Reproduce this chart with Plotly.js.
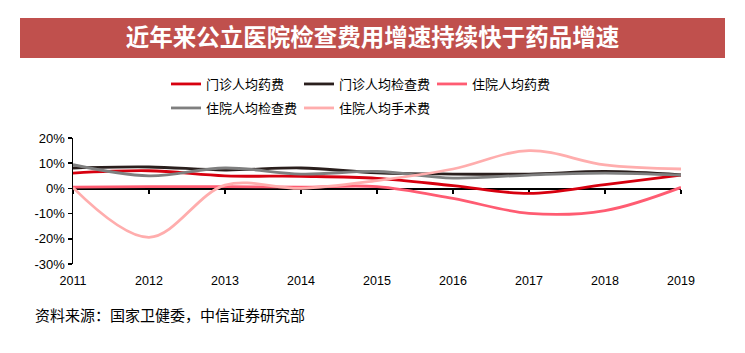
<!DOCTYPE html>
<html>
<head>
<meta charset="utf-8">
<script src="https://cdn.plot.ly/plotly-3.0.1.min.js"></script>
<style>html,body{margin:0;padding:0;background:#fff;}#chart{width:745px;height:353px;}</style>
</head>
<body>
<div id="chart"></div>
<script>
const years = [2011, 2012, 2013, 2014, 2015, 2016, 2017, 2018, 2019];
const seriesNames = ['门诊人均药费', '门诊人均检查费', '住院人均药费', '住院人均检查费', '住院人均手术费'];
const outpatientDrug = [6.1, 7.0, 5.0, 4.8, 4.0, 1.1, -2.0, 1.5, 5.3];
const outpatientExam = [8.1, 8.5, 7.3, 8.1, 6.2, 5.7, 5.7, 6.7, 5.4];
const inpatientDrug = [0.5, 0.7, 0.7, 0.5, 0.7, -4.0, -9.9, -8.8, 0.4];
const inpatientExam = [9.4, 5.0, 8.1, 5.7, 6.7, 4.1, 5.3, 6.1, 5.3];
const inpatientSurgery = [0.3, -19.4, 1.3, 0.0, 3.1, 7.7, 15.0, 9.3, 7.7];
const yTickVals = [-30, -20, -10, 0, 10, 20];
const yTickText = ['-30%', '-20%', '-10%', '0%', '10%', '20%'];
const titleText = '近年来公立医院检查费用增速持续快于药品增速';
const sourceText = '资料来源：国家卫健委，中信证券研究部';

const colors = ['#D7000F', '#2A1F1D', '#FF5C72', '#7F7F7F', '#FFADAD'];
const allSeries = [outpatientDrug, outpatientExam, inpatientDrug, inpatientExam, inpatientSurgery];
const legends = ['legend', 'legend', 'legend', 'legend2', 'legend2'];
const xaxes = ['x', 'x', 'x', 'x2', 'x2'];

const traces = allSeries.map((vals, i) => ({
  type: 'scatter', mode: 'lines', x: years, y: vals, name: seriesNames[i],
  xaxis: xaxes[i], yaxis: 'y',
  line: {color: colors[i], width: 2.8, shape: 'spline', smoothing: 1},
  legend: legends[i], hoverinfo: 'skip'
}));

const cjk = '"Noto Sans CJK SC", "Liberation Sans", sans-serif';
const num = '"Liberation Sans", Arial, sans-serif';

const layout = {
  width: 745, height: 353,
  margin: {l: 73, r: 64, t: 138, b: 89},
  paper_bgcolor: '#fff', plot_bgcolor: '#fff',
  showlegend: true,
  title: {
    text: '<b>' + titleText + '</b>',
    font: {family: cjk, size: 23.5, color: '#ffffff'},
    x: 0.5, xref: 'container', xanchor: 'center',
    y: 1 - 38 / 353, yref: 'container', yanchor: 'middle'
  },
  xaxis: {
    range: [2011, 2019], tickvals: years, ticktext: years.map(String),
    showline: false, showgrid: false, zeroline: false, ticks: '',
    tickfont: {family: num, size: 12.5, color: '#000'}, ticklabelstandoff: 7
  },
  xaxis2: {
    overlaying: 'x', anchor: 'free', position: 0.6,
    range: [2011, 2019], tickvals: years, showticklabels: false,
    showline: true, linecolor: '#000', linewidth: 1.5,
    ticks: 'outside', ticklen: 4, tickwidth: 1.5, tickcolor: '#000',
    showgrid: false, zeroline: false, layer: 'below traces'
  },
  yaxis: {
    range: [-30, 20], tickvals: yTickVals, ticktext: yTickText,
    showline: true, linecolor: '#000', linewidth: 1.5,
    ticks: 'outside', ticklen: 4, tickwidth: 1.5, tickcolor: '#000',
    showgrid: false, zeroline: false,
    tickfont: {family: num, size: 13, color: '#000'}
  },
  legend: {
    orientation: 'h', xref: 'container', yref: 'container',
    x: 166 / 745, y: 1 - 69 / 353, xanchor: 'left', yanchor: 'top',
    entrywidth: 88, entrywidthmode: 'pixels', itemwidth: 30,
    font: {family: cjk, size: 13, color: '#000'}, bgcolor: 'rgba(0,0,0,0)'
  },
  legend2: {
    orientation: 'h', xref: 'container', yref: 'container',
    x: 166 / 745, y: 1 - 93 / 353, xanchor: 'left', yanchor: 'top',
    entrywidth: 88, entrywidthmode: 'pixels', itemwidth: 30,
    font: {family: cjk, size: 13, color: '#000'}, bgcolor: 'rgba(0,0,0,0)'
  },
  shapes: [{
    type: 'rect', xref: 'paper', yref: 'paper',
    x0: (20 - 73) / 608, x1: (725 - 73) / 608,
    y0: (264 - 58) / 126, y1: (264 - 18) / 126,
    fillcolor: '#C0504D', line: {width: 0}, layer: 'below'
  }],
  annotations: [{
    text: sourceText, xref: 'paper', yref: 'paper',
    x: (33 - 73) / 608, y: (264 - 314) / 126,
    xanchor: 'left', yanchor: 'middle', showarrow: false,
    font: {family: cjk, size: 15, color: '#000'}
  }]
};

Plotly.newPlot('chart', traces, layout, {displayModeBar: false, staticPlot: true});
</script>
</body>
</html>
